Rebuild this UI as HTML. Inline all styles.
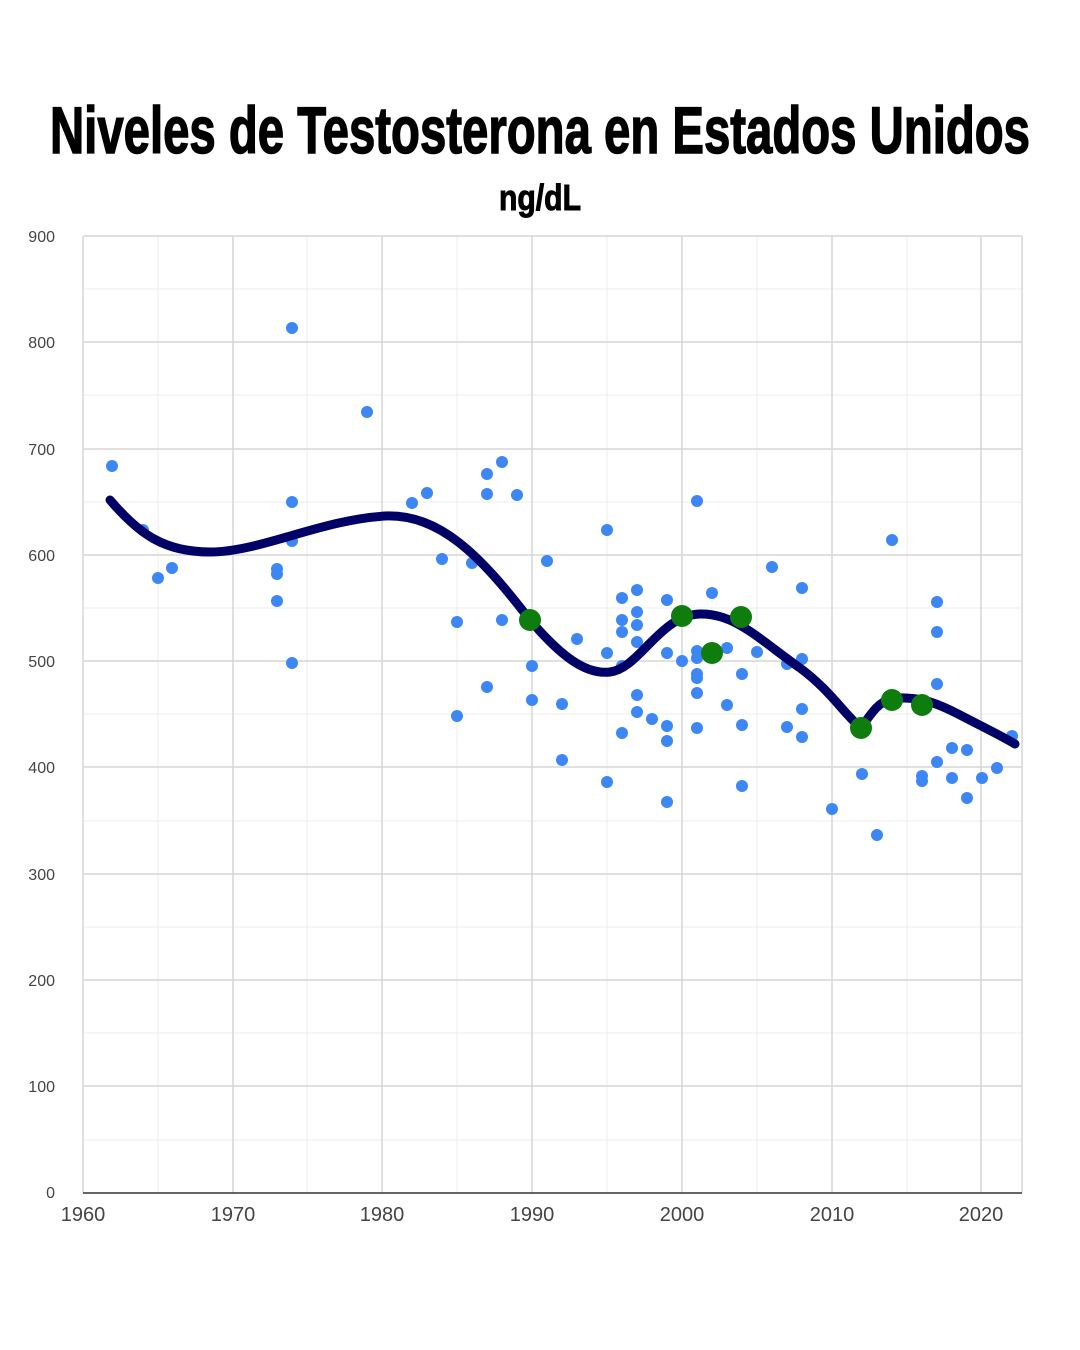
<!DOCTYPE html>
<html><head><meta charset="utf-8"><style>
html,body{margin:0;padding:0;background:#fff;}
svg{display:block;}
</style></head><body>
<svg width="1080" height="1350" viewBox="0 0 1080 1350" xmlns="http://www.w3.org/2000/svg">
<rect width="1080" height="1350" fill="#fff"/>
<text x="540" y="153" text-anchor="middle" font-family="Liberation Sans, sans-serif" font-weight="bold" font-size="66" textLength="980" lengthAdjust="spacingAndGlyphs" fill="#000" stroke="#000" stroke-width="1.5">Niveles de Testosterona en Estados Unidos</text>
<text x="540" y="210" text-anchor="middle" font-family="Liberation Sans, sans-serif" font-weight="bold" font-size="36" textLength="82" lengthAdjust="spacingAndGlyphs" fill="#000" stroke="#000" stroke-width="1">ng/dL</text>
<g stroke="#ececec" stroke-width="1">
<line x1="83" y1="289" x2="1022" y2="289"/><line x1="83" y1="395" x2="1022" y2="395"/><line x1="83" y1="502" x2="1022" y2="502"/><line x1="83" y1="608" x2="1022" y2="608"/><line x1="83" y1="714" x2="1022" y2="714"/><line x1="83" y1="821" x2="1022" y2="821"/><line x1="83" y1="927" x2="1022" y2="927"/><line x1="83" y1="1033" x2="1022" y2="1033"/><line x1="83" y1="1140" x2="1022" y2="1140"/>
<line x1="158" y1="236" x2="158" y2="1193"/><line x1="307" y1="236" x2="307" y2="1193"/><line x1="457" y1="236" x2="457" y2="1193"/><line x1="607" y1="236" x2="607" y2="1193"/><line x1="757" y1="236" x2="757" y2="1193"/><line x1="907" y1="236" x2="907" y2="1193"/>
</g>
<g stroke="#d6d6d6" stroke-width="1.5">
<line x1="83" y1="236" x2="1022" y2="236"/><line x1="83" y1="342" x2="1022" y2="342"/><line x1="83" y1="449" x2="1022" y2="449"/><line x1="83" y1="555" x2="1022" y2="555"/><line x1="83" y1="661" x2="1022" y2="661"/><line x1="83" y1="767" x2="1022" y2="767"/><line x1="83" y1="874" x2="1022" y2="874"/><line x1="83" y1="980" x2="1022" y2="980"/><line x1="83" y1="1086" x2="1022" y2="1086"/>
<line x1="83" y1="236" x2="83" y2="1193"/><line x1="233" y1="236" x2="233" y2="1193"/><line x1="382" y1="236" x2="382" y2="1193"/><line x1="532" y1="236" x2="532" y2="1193"/><line x1="682" y1="236" x2="682" y2="1193"/><line x1="832" y1="236" x2="832" y2="1193"/><line x1="981" y1="236" x2="981" y2="1193"/><line x1="1022" y1="236" x2="1022" y2="1193"/>
</g>
<line x1="83" y1="1193" x2="1022" y2="1193" stroke="#333" stroke-width="1.5"/>
<g font-family="Liberation Sans, sans-serif" font-size="16" fill="#444" text-anchor="end">
<text x="55" y="242">900</text><text x="55" y="348">800</text><text x="55" y="455">700</text><text x="55" y="561">600</text><text x="55" y="667">500</text><text x="55" y="773">400</text><text x="55" y="880">300</text><text x="55" y="986">200</text><text x="55" y="1092">100</text><text x="55" y="1198">0</text>
</g>
<g font-family="Liberation Sans, sans-serif" font-size="20" fill="#444" text-anchor="middle">
<text x="83" y="1221">1960</text><text x="233" y="1221">1970</text><text x="382" y="1221">1980</text><text x="532" y="1221">1990</text><text x="682" y="1221">2000</text><text x="832" y="1221">2010</text><text x="981" y="1221">2020</text>
</g>
<g fill="#3d87f5">
<circle cx="112" cy="466" r="6"/><circle cx="143" cy="530" r="6"/><circle cx="158" cy="578" r="6"/><circle cx="172" cy="568" r="6"/><circle cx="277" cy="569" r="6"/><circle cx="277" cy="574" r="6"/><circle cx="277" cy="601" r="6"/><circle cx="292" cy="328" r="6"/><circle cx="292" cy="502" r="6"/><circle cx="292" cy="541" r="6"/><circle cx="292" cy="663" r="6"/><circle cx="367" cy="412" r="6"/><circle cx="412" cy="503" r="6"/><circle cx="427" cy="493" r="6"/><circle cx="442" cy="559" r="6"/><circle cx="457" cy="622" r="6"/><circle cx="457" cy="716" r="6"/><circle cx="472" cy="563" r="6"/><circle cx="487" cy="474" r="6"/><circle cx="487" cy="494" r="6"/><circle cx="487" cy="687" r="6"/><circle cx="502" cy="462" r="6"/><circle cx="502" cy="620" r="6"/><circle cx="517" cy="495" r="6"/><circle cx="532" cy="666" r="6"/><circle cx="532" cy="700" r="6"/><circle cx="547" cy="561" r="6"/><circle cx="562" cy="704" r="6"/><circle cx="562" cy="760" r="6"/><circle cx="577" cy="639" r="6"/><circle cx="607" cy="530" r="6"/><circle cx="607" cy="653" r="6"/><circle cx="607" cy="782" r="6"/><circle cx="622" cy="598" r="6"/><circle cx="622" cy="620" r="6"/><circle cx="622" cy="632" r="6"/><circle cx="622" cy="666" r="6"/><circle cx="622" cy="733" r="6"/><circle cx="637" cy="590" r="6"/><circle cx="637" cy="612" r="6"/><circle cx="637" cy="625" r="6"/><circle cx="637" cy="642" r="6"/><circle cx="637" cy="695" r="6"/><circle cx="637" cy="712" r="6"/><circle cx="652" cy="719" r="6"/><circle cx="667" cy="600" r="6"/><circle cx="667" cy="653" r="6"/><circle cx="667" cy="726" r="6"/><circle cx="667" cy="741" r="6"/><circle cx="667" cy="802" r="6"/><circle cx="682" cy="661" r="6"/><circle cx="697" cy="501" r="6"/><circle cx="697" cy="651" r="6"/><circle cx="697" cy="658" r="6"/><circle cx="697" cy="674" r="6"/><circle cx="697" cy="678" r="6"/><circle cx="697" cy="693" r="6"/><circle cx="697" cy="728" r="6"/><circle cx="712" cy="593" r="6"/><circle cx="727" cy="648" r="6"/><circle cx="727" cy="705" r="6"/><circle cx="742" cy="674" r="6"/><circle cx="742" cy="725" r="6"/><circle cx="742" cy="786" r="6"/><circle cx="757" cy="652" r="6"/><circle cx="772" cy="567" r="6"/><circle cx="787" cy="664" r="6"/><circle cx="787" cy="727" r="6"/><circle cx="802" cy="588" r="6"/><circle cx="802" cy="659" r="6"/><circle cx="802" cy="709" r="6"/><circle cx="802" cy="737" r="6"/><circle cx="832" cy="809" r="6"/><circle cx="862" cy="774" r="6"/><circle cx="877" cy="835" r="6"/><circle cx="892" cy="540" r="6"/><circle cx="922" cy="776" r="6"/><circle cx="922" cy="781" r="6"/><circle cx="937" cy="602" r="6"/><circle cx="937" cy="632" r="6"/><circle cx="937" cy="684" r="6"/><circle cx="937" cy="762" r="6"/><circle cx="952" cy="748" r="6"/><circle cx="952" cy="778" r="6"/><circle cx="967" cy="750" r="6"/><circle cx="967" cy="798" r="6"/><circle cx="982" cy="778" r="6"/><circle cx="997" cy="768" r="6"/><circle cx="1012" cy="736" r="6"/>
</g>
<path d="M110,500 C140,535 165,552 210,552 C260,552 320,520 385,516 C440,514 480,555 530,620 C560,655 585,675 610,672 C640,668 660,615 700,614 C735,613 760,640 800,668 C830,690 845,715 861,728 C872,712 880,700 895,698 C920,697 935,702 960,715 C985,728 1000,735 1015,744" fill="none" stroke="#000066" stroke-width="9" stroke-linecap="round"/>
<g fill="#0e7d0e">
<circle cx="530" cy="620" r="11"/><circle cx="682" cy="616" r="11"/><circle cx="712" cy="653" r="11"/><circle cx="741" cy="617" r="11"/><circle cx="861" cy="728" r="11"/><circle cx="892" cy="700" r="11"/><circle cx="922" cy="705" r="11"/>
</g>
</svg>
</body></html>
